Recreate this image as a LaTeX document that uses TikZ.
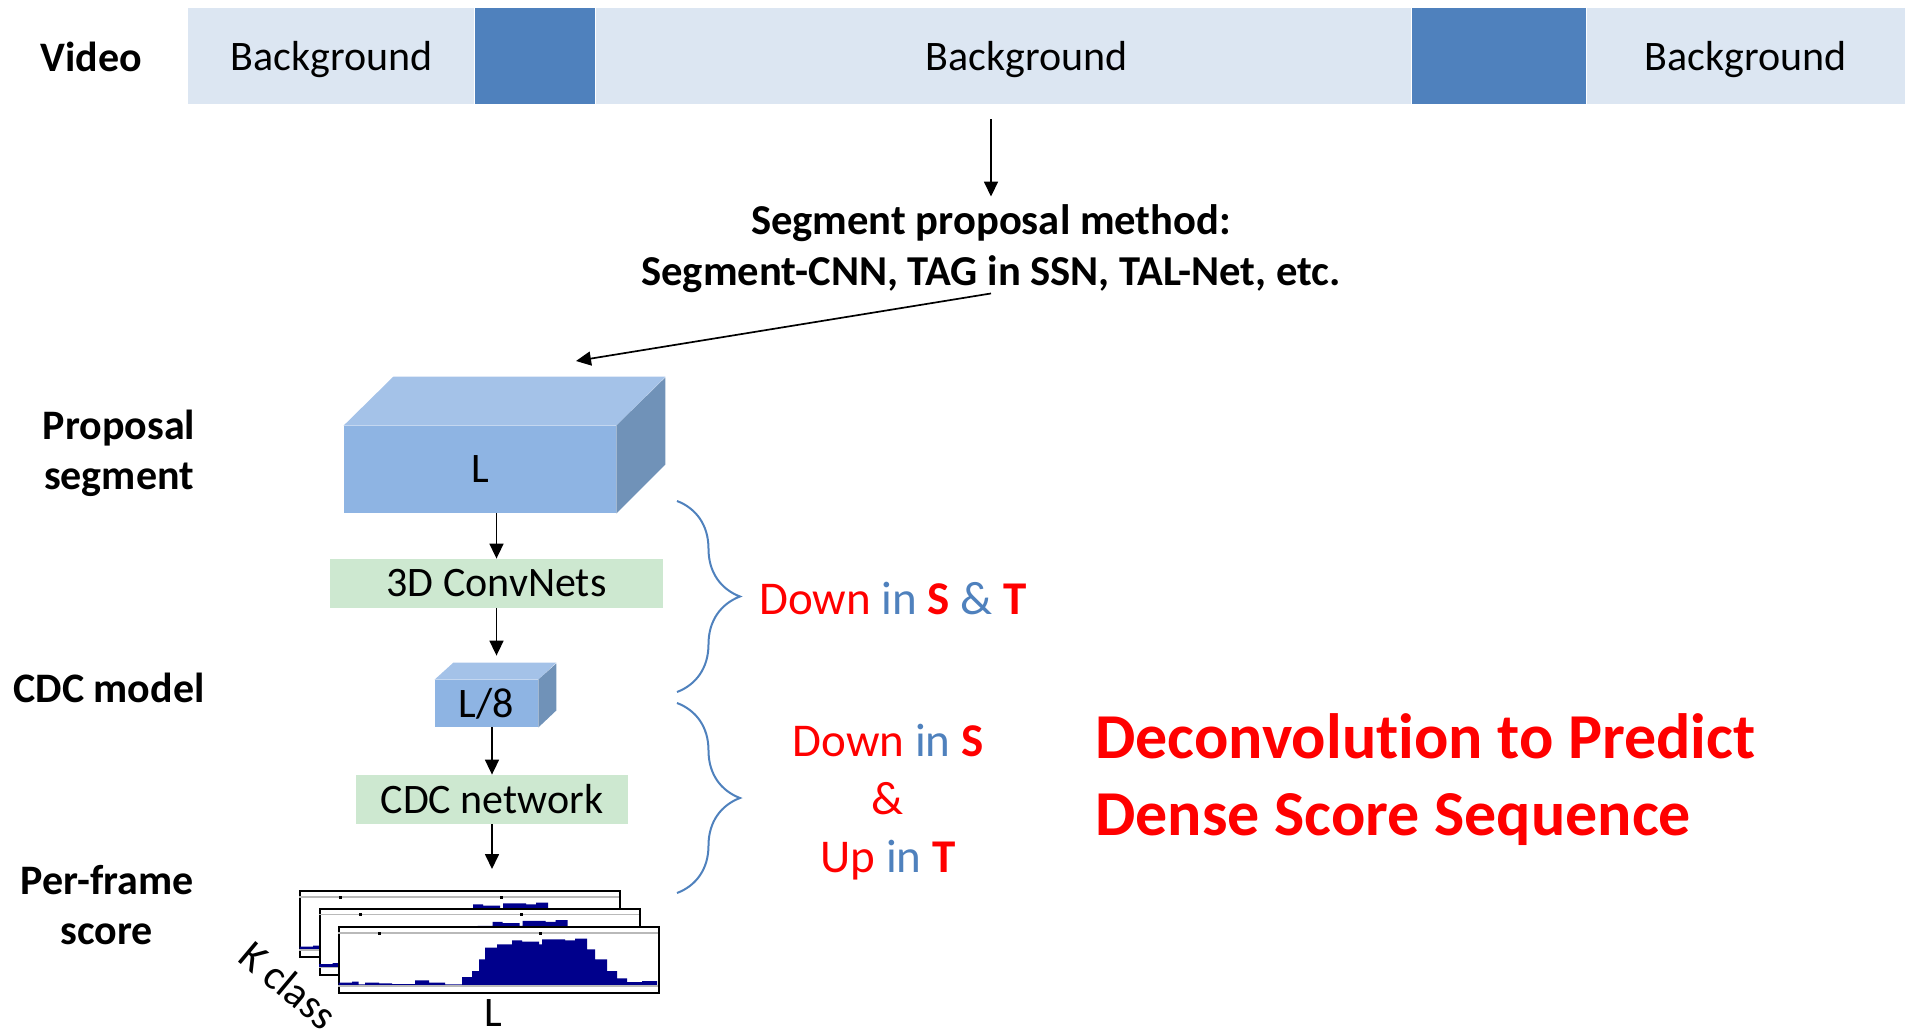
\documentclass[tikz,border=0pt]{standalone}
\usepackage{fontspec}
\setmainfont{Carlito}[Ligatures=NoCommon]
\usetikzlibrary{arrows.meta,positioning,decorations.pathreplacing}

\definecolor{barlight}{RGB}{220,230,242}
\definecolor{barblue}{RGB}{79,129,189}
\definecolor{cubefront}{RGB}{142,180,227}
\definecolor{cubetop}{RGB}{164,194,232}
\definecolor{cubeside}{RGB}{112,146,184}
\definecolor{boxgreen}{RGB}{205,232,208}
\definecolor{histblue}{RGB}{0,0,140}

\tikzset{
  txt/.style={font=\fontsize{21}{25.5}\selectfont, inner sep=0pt},
  lbl/.style={font=\fontsize{21}{25}\selectfont\bfseries, inner sep=0pt, align=center},
  barpart/.style={txt, minimum height=48pt, fill=barlight, text depth=0pt},
  barblk/.style={barpart, fill=barblue},
  cube/.style={txt, fill=cubefront},
  netbox/.style={txt, fill=boxgreen},
  clsframe/.style={draw, fill=white, line width=1pt, minimum width=160pt, minimum height=33pt, inner sep=0pt},
  arr/.style={-{Triangle[length=7.5pt,width=7pt]}, line width=0.85pt},
  brc/.style={decorate, decoration={brace, amplitude=31.5pt}, draw=barblue, line width=1pt},
  note/.style={font=\fontsize{23.5}{29}\selectfont, inner sep=0pt, align=center}
}

% score histogram inside one class frame
\newcommand{\hist}[1]{%
  \begin{scope}[shift={(#1.south west)}, yscale=-1]
    \draw[gray!55, line width=0.8pt] (0,61) -- (320,61);
    \fill[histblue] (0.7,8) \foreach \a/\b/\h in {0.7/14/3.3, 14/20.7/4.3, 20.7/27/1.7, 27/41/3.3,
        41/54/2.7, 54/77/2, 77/91/5.7, 91/107/3.3, 107/124/1.7, 124/134/9, 134/141/15,
        141/147/26.7, 147/159/38.3, 159/174/41.7, 174/184/45.7, 184/201/44.3, 201/204/41.7,
        204/227/46.7, 227/237/45.7, 237/249/47.3, 249/257/36.7, 257/269/26.7, 269/279/15,
        279/289/7.7, 289/304/4, 304/319/5} {-- (\a,{8+\h}) -- (\b,{8+\h})} -- (319,8) -- cycle;
    \draw[gray!55, line width=0.8pt] (0,8) -- (320,8);
    \fill (40,59.5) rectangle (43,62.5);
    \fill (201,59.5) rectangle (204,62.5);
  \end{scope}}

\begin{document}
\begin{tikzpicture}[x=0.5pt, y=-0.5pt]
    \useasboundingbox (0,0) rectangle (1905,1032);

    % video bar
    \node[lbl] (video) at (91,57) {Video};
    \node[barpart, anchor=west, minimum width=143pt] (bg1) at (188,56) {Background};
    \node[barblk, right=0pt of bg1, minimum width=60pt] (act1) {};
    \node[barpart, right=0pt of act1, minimum width=407.5pt,
          label={[txt, text depth=0pt, xshift=11.5pt]center:Background}] (bg2) {};
    \node[barblk, right=0pt of bg2, minimum width=87pt] (act2) {};
    \node[barpart, right=0pt of act2, minimum width=159pt] (bg3) {Background};

    \node[lbl, font=\fontsize{21.3}{25.5}\selectfont\bfseries] (prop) at (991,249)
        {Segment proposal method:\\Segment-CNN, TAG in SSN, TAL-Net, etc.};
    \coordinate (segin) at (576,361);
    \draw[arr, shorten <=7.5pt, shorten >=4pt] (prop.north |- bg2.south) -- (prop.north);
    \draw[arr] (prop.south) -- (segin);

    % left labels
    \node[lbl] (lprop) at (119,453) {Proposal\\segment};
    \node[lbl] (lcdc) at (109,688) {CDC model};
    \node[lbl] (lscore) at (107,905) {Per-frame\\score};

    % proposal segment cube
    \node[cube, minimum width=136pt, minimum height=43.5pt] (seg) at (480,469.5) {L};
    \fill[cubetop] (seg.north west) -- (seg.north east) -- ++(49,-49) -- ++(-272,0) -- cycle;
    \fill[cubeside] (seg.north east) -- (seg.south east) -- ++(49,-49) -- ++(0,-87) -- cycle;

    \node[netbox, minimum width=166.5pt, minimum height=24.5pt] (conv3d) at (496.5,583.5) {3D ConvNets};

    % L/8 cube
    \node[cube, minimum width=51.5pt, minimum height=23.5pt] (c8) at (486.5,703.5) {L/8};
    \fill[cubetop] (c8.north west) -- (c8.north east) -- ++(18,-17) -- ++(-103,0) -- cycle;
    \fill[cubeside] (c8.north east) -- (c8.south east) -- ++(18,-17) -- ++(0,-47) -- cycle;

    \node[netbox, minimum width=136pt, minimum height=24.5pt] (cdcnet) at (492,799.5) {CDC network};

    % per-frame scores, back to front
    \node[clsframe] (cls3) at (460,924) {};
    \hist{cls3}
    \node[clsframe] (cls2) at (479.5,941.5) {};
    \hist{cls2}
    \node[clsframe] (cls1) at (499,960) {};
    \hist{cls1}
    \node[txt] (lenL) at (493,1013) {L};
    \node[txt, rotate=-40] (kcls) at (289,985) {K class};

    \draw[arr] (conv3d.north |- seg.south) -- (conv3d.north);
    \draw[arr, shorten >=12pt] (conv3d.south) -- (conv3d.south |- c8.north);
    \draw[arr] (cdcnet.north |- c8.south) -- (cdcnet.north);
    \draw[arr, shorten >=10.5pt] (cdcnet.south) -- (cdcnet.south |- cls3.north);

    % braces
    \coordinate (b1top) at (677,501);
    \coordinate (b1bot) at (677,692);
    \coordinate (b2top) at (677,703);
    \coordinate (b2bot) at (677,893);
    \draw[brc] (b1top) -- (b1bot);
    \draw[brc] (b2top) -- (b2bot);

    \node[note] (down) at (893,598)
        {\color{red}Down \color{barblue}in \color{red}\textbf{S} \color{barblue}\& \color{red}\textbf{T}};
    \node[note] (downup) at (888,802)
        {\color{red}Down \color{barblue}in \color{red}\textbf{S}\\
         \color{red}\&\\
         \color{red}Up \color{barblue}in \color{red}\textbf{T}};

    \node[inner sep=0pt, anchor=west, align=left, text=red,
          font=\fontsize{32}{38.5}\selectfont\bfseries] (title) at (1095,780)
        {Deconvolution to Predict\\Dense Score Sequence};
\end{tikzpicture}
\end{document}
